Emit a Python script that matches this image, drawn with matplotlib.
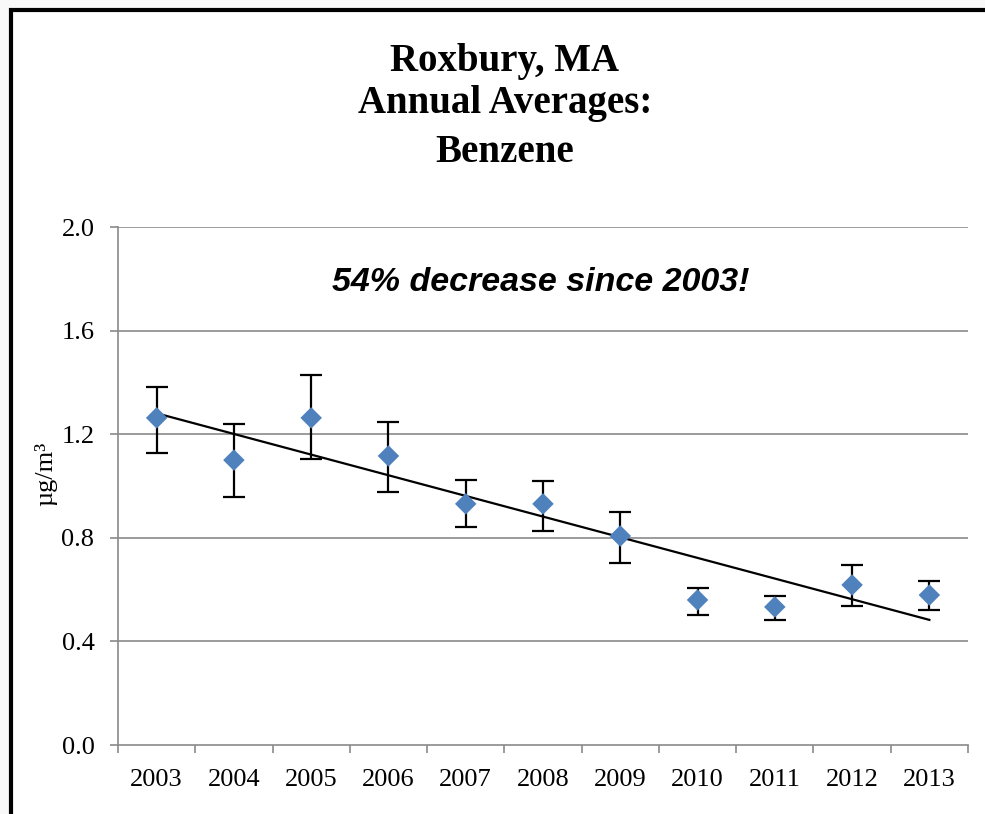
import matplotlib
matplotlib.use('Agg')
import numpy as np
import matplotlib.pyplot as plt
from matplotlib.patches import Rectangle

# annual averages
years = ['2003', '2004', '2005', '2006', '2007', '2008', '2009', '2010', '2011', '2012', '2013']
means = [1.263, 1.100, 1.263, 1.116, 0.931, 0.931, 0.807, 0.560, 0.533, 0.618, 0.579]
upper = [1.382, 1.239, 1.429, 1.247, 1.023, 1.019, 0.900, 0.606, 0.575, 0.695, 0.633]
lower = [1.127, 0.958, 1.104, 0.977, 0.842, 0.826, 0.703, 0.502, 0.483, 0.537, 0.521]
yticks = [0.0, 0.4, 0.8, 1.2, 1.6, 2.0]
title_lines = ['Roxbury, MA', 'Annual Averages:', 'Benzene']

W, H = 985, 814
fig = plt.figure(figsize=(W / 100, H / 100), dpi=100, facecolor='#f8f8f8')

# white panel with a black frame (left and top edges visible)
fig.patches.append(Rectangle((11 / W, -0.1), 2, (H - 10) / H + 0.1, transform=fig.transFigure,
                             facecolor='white', edgecolor='black', linewidth=3, zorder=-10))

ax = fig.add_axes([118 / W, 1 - 745 / H, (968 - 118) / W, (745 - 227) / H])
ax.set_facecolor('none')
ax.set_zorder(5)

x = np.arange(len(years))
m = np.array(means)
yerr = [m - np.array(lower), np.array(upper) - m]

# gridlines
for t in yticks[1:]:
    ax.axhline(t, color='#8a8a8a', lw=1.2, zorder=1)

ax.errorbar(x, m, yerr=yerr, fmt='none', ecolor='black', elinewidth=1.6,
            capsize=8, capthick=1.6, zorder=3)

# linear trend line
k, b = np.polyfit(x, m, 1)
ax.plot(x[[0, -1]], k * x[[0, -1]] + b, color='black', lw=1.6, zorder=4)

ax.scatter(x, m, marker='D', s=120, color='#4f81bd', edgecolor='none', zorder=5)

ax.set_xlim(-0.5, len(years) - 0.5)
ax.set_ylim(0, 2.0)

ax.set_xticks(np.arange(-0.5, len(years) + 0.5, 1))
ax.set_xticklabels([])
ax.set_xticks(x, minor=True)
ax.set_xticklabels(years, minor=True, fontsize=19, family='Liberation Serif')
ax.tick_params(axis='x', which='major', length=6, color='#8a8a8a', width=1.2, direction='out')
ax.tick_params(axis='x', which='minor', length=0, pad=17)

ax.set_yticks(yticks)
ax.set_yticklabels([f'{t:.1f}' for t in yticks], fontsize=19, family='Liberation Serif')
ax.tick_params(axis='y', length=6, color='#8a8a8a', width=1.2, direction='out', pad=11)

for s in ['top', 'right']:
    ax.spines[s].set_visible(False)
for s in ['left', 'bottom']:
    ax.spines[s].set_color('#8a8a8a')
    ax.spines[s].set_linewidth(1.2)

ax.set_ylabel('µg/m³', fontsize=19, family='Liberation Serif')
ax.yaxis.set_label_coords((57 - 118) / (968 - 118), (745 - 474) / (745 - 227))

for line, ypx in zip(title_lines, [62, 104, 152]):
    fig.text(505 / W, 1 - ypx / H, line, ha='center', va='center',
             fontsize=28, fontweight='bold', family='Liberation Serif')

ax.text(4.97, 1.784, '54% decrease since 2003!', ha='center', va='center',
        fontsize=24.5, fontweight='bold', fontstyle='italic', family='Liberation Sans')

fig.savefig('out.png', dpi=100, facecolor=fig.get_facecolor())
